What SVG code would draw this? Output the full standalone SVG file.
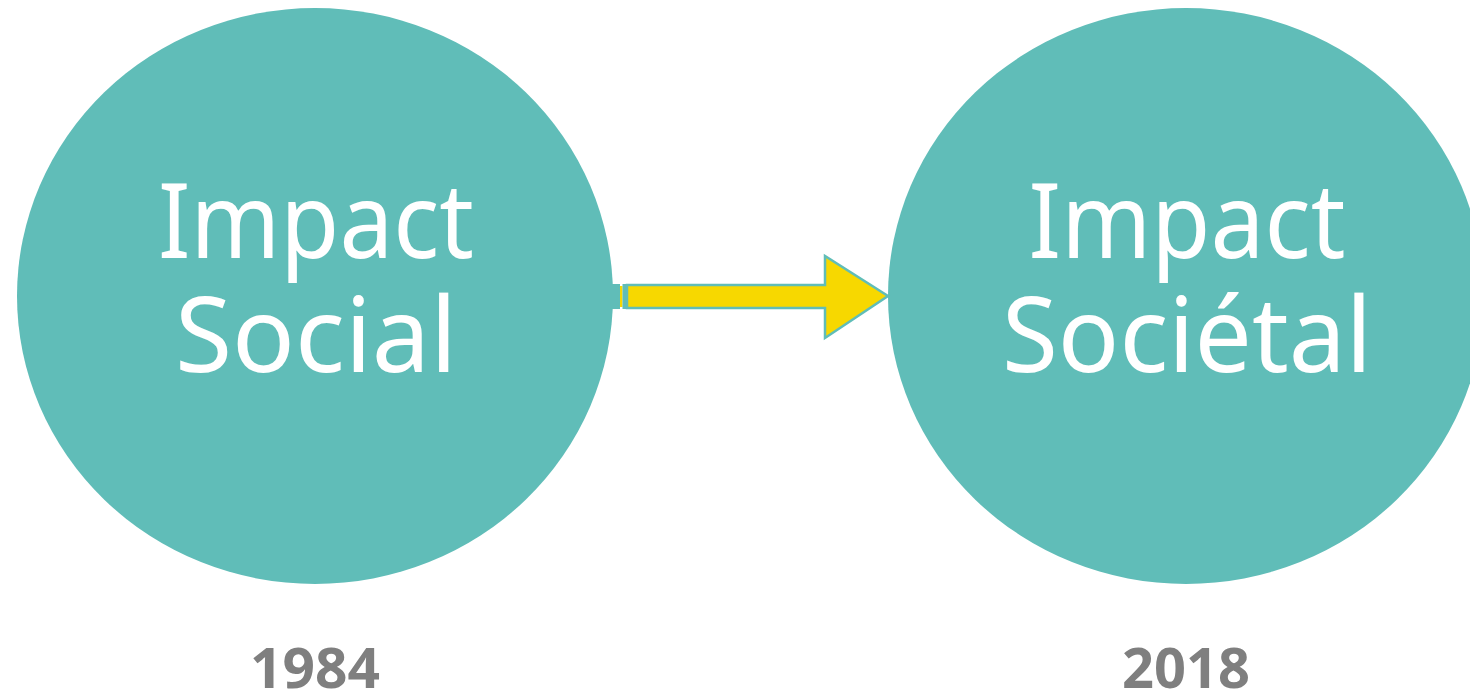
<svg xmlns="http://www.w3.org/2000/svg" width="1470" height="694" viewBox="0 0 1470 694">
<style>
.node{fill:#60bdb8}
.lbl{fill:#ffffff;font-family:"Noto Sans",sans-serif;font-size:104px;text-anchor:middle}
.year{fill:#7f7f7f;font-family:"Noto Sans",sans-serif;font-weight:bold;font-size:56px;text-anchor:middle}
</style>
<rect width="1470" height="694" fill="#ffffff"/>
<g id="node-social">
<ellipse class="node" cx="315" cy="296" rx="298" ry="288"/>
<text class="lbl" x="316" y="258" textLength="316" lengthAdjust="spacingAndGlyphs">Impact</text>
<text class="lbl" x="316" y="372" textLength="282" lengthAdjust="spacingAndGlyphs">Social</text>
</g>
<g id="node-societal">
<ellipse class="node" cx="1186" cy="296" rx="298" ry="288"/>
<text class="lbl" x="1187" y="258" textLength="317" lengthAdjust="spacingAndGlyphs">Impact</text>
<text class="lbl" x="1187" y="372" textLength="370" lengthAdjust="spacingAndGlyphs">Sociétal</text>
</g>
<g id="connectors">
<rect x="611" y="284" width="9" height="25" fill="#60bdb8"/>
<rect x="620" y="286" width="2.5" height="21" fill="#f7d800"/>
<rect x="622.5" y="284" width="5" height="25" fill="#60bdb8"/>
<path d="M627,285 L825,285 L825,256 L888,296 L825,338 L825,308 L627,308 Z" fill="#f7d800" stroke="#60bdb8" stroke-width="2.5"/>
</g>
<g id="years">
<text class="year" x="315" y="688" textLength="130" lengthAdjust="spacingAndGlyphs">1984</text>
<text class="year" x="1186" y="688" textLength="128" lengthAdjust="spacingAndGlyphs">2018</text>
</g>
</svg>
